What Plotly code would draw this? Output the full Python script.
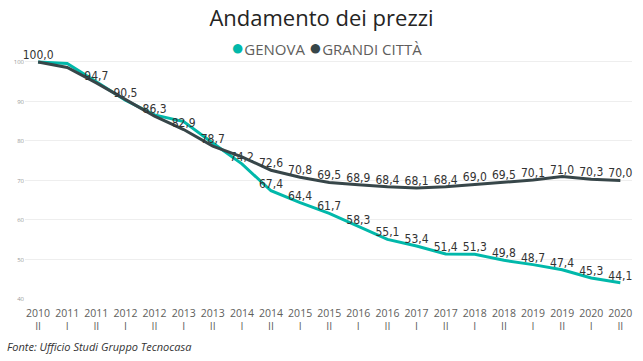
import plotly.graph_objects as go

periods = ["2010<br>II", "2011<br>I", "2011<br>II", "2012<br>I", "2012<br>II", "2013<br>I", "2013<br>II",
           "2014<br>I", "2014<br>II", "2015<br>I", "2015<br>II", "2016<br>I", "2016<br>II", "2017<br>I",
           "2017<br>II", "2018<br>I", "2018<br>II", "2019<br>I", "2019<br>II", "2020<br>I", "2020<br>II"]
genova = [100.0, 99.6, 95.0, 90.3, 86.6, 84.9, 79.5, 74.2, 67.4, 64.4, 61.7, 58.3, 55.1, 53.4,
          51.4, 51.3, 49.8, 48.7, 47.4, 45.3, 44.1]
grandi_citta = [100.0, 98.6, 94.7, 90.5, 86.3, 82.9, 78.7, 76.0, 72.6, 70.8, 69.5, 68.9, 68.4, 68.1,
                68.4, 69.0, 69.5, 70.1, 71.0, 70.3, 70.0]
y_ticks = [40, 50, 60, 70, 80, 90, 100]
# which data labels are visible (others hidden by overlap in the original)
genova_labels_shown = list(range(7, 21))
grandi_labels_shown = [0, 2, 3, 4, 5, 6] + list(range(8, 21))

C_GEN = "#01B8AA"
C_GRA = "#374649"

x = list(range(len(periods)))

def fmt(v):
    return f"{v:.1f}".replace(".", ",")

gen_text = [fmt(v) if i in genova_labels_shown else "" for i, v in enumerate(genova)]
gra_text = [fmt(v) if i in grandi_labels_shown else "" for i, v in enumerate(grandi_citta)]

label_font = dict(family="DejaVu Sans Condensed, Liberation Sans Narrow, Roboto, sans-serif", size=12, color="#333333")

fig = go.Figure()
fig.add_trace(go.Scatter(x=x, y=genova, mode="lines+text", text=gen_text, textposition="top center",
                         textfont=label_font, line=dict(color=C_GEN, width=3), showlegend=False,
                         cliponaxis=False, name="GENOVA"))
fig.add_trace(go.Scatter(x=x, y=grandi_citta, mode="lines+text", text=gra_text, textposition="top center",
                         textfont=label_font, line=dict(color=C_GRA, width=3), showlegend=False,
                         cliponaxis=False, name="GRANDI CITTÀ"))

legend_text = (f"<span style='color:{C_GEN};font-size:22px'>●</span>GENOVA "
               f"<span style='color:{C_GRA};font-size:22px'>●</span>GRANDI CITTÀ")

fig.update_layout(
    width=643, height=361,
    margin=dict(l=25, r=11, t=60, b=62, autoexpand=False),
    paper_bgcolor="white", plot_bgcolor="white",
    showlegend=False,
    title=dict(text="Andamento dei prezzi", x=0.5, xanchor="center", y=0.95, yanchor="middle",
               font=dict(family="Open Sans, Noto Sans, sans-serif", size=22, color="#252423")),
    xaxis=dict(range=[-0.45, 20.4], tickmode="array", tickvals=x, ticktext=periods,
               showgrid=False, zeroline=False, showline=False, ticks="", automargin=False,
               ticklabelstandoff=6,
               tickfont=dict(family="Open Sans, Noto Sans, sans-serif", size=10.5, color="#605E5C")),
    yaxis=dict(range=[40, 100.5], tickvals=y_ticks, showgrid=True,
               gridcolor="#EEEEEE", gridwidth=1, zeroline=False, showline=False, ticks="", automargin=False,
               tickfont=dict(family="Open Sans, sans-serif", size=6, color="#999999")),
    annotations=[
        dict(text=legend_text, xref="paper", yref="paper", x=0.497, xanchor="center",
             y=1.06, yanchor="middle", showarrow=False,
             font=dict(family="Open Sans, Noto Sans, sans-serif", size=15, color="#605E5C")),
        dict(text="<i>Fonte: Ufficio Studi Gruppo Tecnocasa</i>", xref="paper", yref="paper",
             x=-0.033, xanchor="left", y=-0.20, yanchor="middle", showarrow=False,
             font=dict(family="Open Sans, Noto Sans, sans-serif", size=11, color="#333333")),
    ],
)

fig.write_html("out.html", config={"displayModeBar": False},
               post_script="document.body.style.margin='0';document.body.style.padding='0';")
